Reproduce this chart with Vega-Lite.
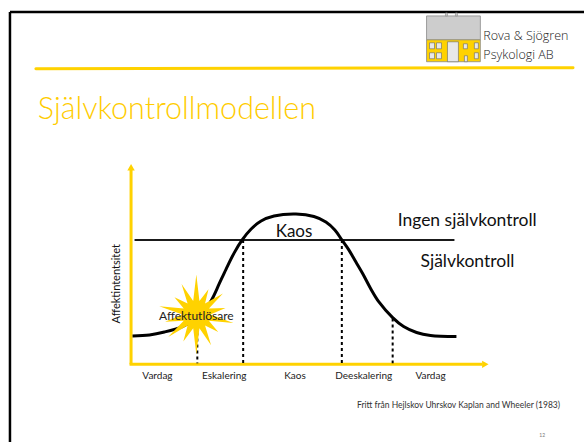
{
  "$schema": "https://vega.github.io/schema/vega-lite/v6.json",
  "width": 586,
  "height": 444,
  "padding": 0,
  "autosize": {"type": "fit", "contains": "padding"},
  "background": "white",
  "config": {"view": {"stroke": null}, "font": "Lato"},
  "datasets": {
    "frame": [
      {"x": 10, "y": 12, "x2": 586, "y2": 12},
      {"x": 10, "y": 12, "x2": 10, "y2": 444}
    ],
    "header": [{"x": 36, "y": 69, "x2": 575, "y2": 68}],
    "axes": [
      {"x": 131.5, "y": 170, "x2": 131.5, "y2": 366},
      {"x": 130, "y": 366, "x2": 484, "y2": 366}
    ],
    "arrows": [
      {"x": 131.5, "y": 168, "dir": "up"},
      {"x": 487, "y": 366, "dir": "right"}
    ],
    "threshold": [{"x": 135, "y": 241, "x2": 456, "y2": 241}],
    "phases": [
      {"x": 198, "y": 322, "x2": 198, "y2": 365},
      {"x": 244, "y": 241, "x2": 244, "y2": 365},
      {"x": 343, "y": 241, "x2": 343, "y2": 365},
      {"x": 394, "y": 320, "x2": 394, "y2": 365}
    ],
    "curve": [
      {"x": 133, "y": 337.5}, {"x": 150, "y": 336.5}, {"x": 165, "y": 333.5},
      {"x": 183, "y": 328}, {"x": 197, "y": 320}, {"x": 206, "y": 311},
      {"x": 213, "y": 300}, {"x": 220, "y": 285}, {"x": 227, "y": 270},
      {"x": 235, "y": 254}, {"x": 243, "y": 241}, {"x": 252, "y": 230},
      {"x": 262, "y": 222}, {"x": 275, "y": 217}, {"x": 297, "y": 215},
      {"x": 315, "y": 217.5}, {"x": 327, "y": 223},
      {"x": 336, "y": 231}, {"x": 343, "y": 241}, {"x": 350, "y": 251},
      {"x": 357, "y": 263}, {"x": 364, "y": 275}, {"x": 372, "y": 290},
      {"x": 380, "y": 303}, {"x": 394, "y": 319}, {"x": 405, "y": 328},
      {"x": 418, "y": 334}, {"x": 432, "y": 337}, {"x": 458, "y": 338}
    ],
    "star": [{"x": 197, "y": 316}],
    "roof": [{"x": 428, "y": 16, "x2": 482, "y2": 40}],
    "chimneys": [
      {"x": 447, "y": 13, "x2": 449, "y2": 16},
      {"x": 457, "y": 13, "x2": 459, "y2": 16}
    ],
    "body": [{"x": 428, "y": 40, "x2": 482, "y2": 62}],
    "windows": [
      {"x": 431, "y": 43, "x2": 436, "y2": 49},
      {"x": 438, "y": 43, "x2": 443, "y2": 49},
      {"x": 431, "y": 53, "x2": 436, "y2": 59},
      {"x": 438, "y": 53, "x2": 443, "y2": 59},
      {"x": 449, "y": 42, "x2": 460, "y2": 62},
      {"x": 465, "y": 44, "x2": 469, "y2": 49},
      {"x": 476, "y": 43, "x2": 480, "y2": 49},
      {"x": 476, "y": 53, "x2": 480, "y2": 59},
      {"x": 466, "y": 56, "x2": 469, "y2": 62}
    ],
    "title": [{"x": 38, "y": 120, "label": "Självkontrollmodellen"}],
    "logo": [
      {"x": 485, "y": 40, "label": "Rova & Sjögren"},
      {"x": 485, "y": 59, "label": "Psykologi AB"}
    ],
    "phaseLabels": [
      {"x": 158, "y": 381, "label": "Vardag"},
      {"x": 225, "y": 381, "label": "Eskalering"},
      {"x": 296, "y": 381, "label": "Kaos"},
      {"x": 365, "y": 381, "label": "Deeskalering"},
      {"x": 432, "y": 381, "label": "Vardag"}
    ],
    "kaos": [{"x": 295, "y": 238, "label": "Kaos"}],
    "zones": [
      {"x": 399, "y": 227, "label": "Ingen självkontroll"},
      {"x": 422, "y": 268, "label": "Självkontroll"}
    ],
    "trigger": [{"x": 197, "y": 321, "label": "Affektutlösare"}],
    "ylabel": [{"x": 120, "y": 285, "label": "Affektintentsitet"}],
    "footer": [{"x": 562, "y": 410, "label": "Fritt från Hejlskov Uhrskov Kaplan and Wheeler (1983)"}],
    "page": [{"x": 544, "y": 439, "label": "12"}]
  },
  "layer": [
    {
      "data": {"name": "frame"},
      "mark": {"type": "rule", "color": "#000000", "strokeWidth": 2.5},
      "encoding": {
        "x": {"field": "x", "type": "quantitative", "scale": {"domain": [0, 586], "nice": false, "zero": false}, "axis": null},
        "y": {"field": "y", "type": "quantitative", "scale": {"domain": [0, 444], "nice": false, "zero": false, "reverse": true}, "axis": null},
        "x2": {"field": "x2"},
        "y2": {"field": "y2"}
      }
    },
    {
      "data": {"name": "header"},
      "mark": {"type": "rule", "color": "#FFD200", "strokeWidth": 3, "strokeCap": "round"},
      "encoding": {
        "x": {"field": "x", "type": "quantitative", "scale": {"domain": [0, 586], "nice": false, "zero": false}, "axis": null},
        "y": {"field": "y", "type": "quantitative", "scale": {"domain": [0, 444], "nice": false, "zero": false, "reverse": true}, "axis": null},
        "x2": {"field": "x2"},
        "y2": {"field": "y2"}
      }
    },
    {
      "data": {"name": "roof"},
      "mark": {"type": "rect", "fill": "#CDCDCD", "stroke": "#8A8A8A", "strokeWidth": 0.8},
      "encoding": {
        "x": {"field": "x", "type": "quantitative", "scale": {"domain": [0, 586], "nice": false, "zero": false}, "axis": null},
        "y": {"field": "y", "type": "quantitative", "scale": {"domain": [0, 444], "nice": false, "zero": false, "reverse": true}, "axis": null},
        "x2": {"field": "x2"},
        "y2": {"field": "y2"}
      }
    },
    {
      "data": {"name": "chimneys"},
      "mark": {"type": "rect", "fill": "#CDCDCD", "stroke": "#8A8A8A", "strokeWidth": 0.6},
      "encoding": {
        "x": {"field": "x", "type": "quantitative", "scale": {"domain": [0, 586], "nice": false, "zero": false}, "axis": null},
        "y": {"field": "y", "type": "quantitative", "scale": {"domain": [0, 444], "nice": false, "zero": false, "reverse": true}, "axis": null},
        "x2": {"field": "x2"},
        "y2": {"field": "y2"}
      }
    },
    {
      "data": {"name": "body"},
      "mark": {"type": "rect", "fill": "#FFD200", "stroke": "#8A8A8A", "strokeWidth": 0.8},
      "encoding": {
        "x": {"field": "x", "type": "quantitative", "scale": {"domain": [0, 586], "nice": false, "zero": false}, "axis": null},
        "y": {"field": "y", "type": "quantitative", "scale": {"domain": [0, 444], "nice": false, "zero": false, "reverse": true}, "axis": null},
        "x2": {"field": "x2"},
        "y2": {"field": "y2"}
      }
    },
    {
      "data": {"name": "windows"},
      "mark": {"type": "rect", "fill": "#E8E8E8", "stroke": "#666666", "strokeWidth": 0.6},
      "encoding": {
        "x": {"field": "x", "type": "quantitative", "scale": {"domain": [0, 586], "nice": false, "zero": false}, "axis": null},
        "y": {"field": "y", "type": "quantitative", "scale": {"domain": [0, 444], "nice": false, "zero": false, "reverse": true}, "axis": null},
        "x2": {"field": "x2"},
        "y2": {"field": "y2"}
      }
    },
    {
      "data": {"name": "axes"},
      "mark": {"type": "rule", "color": "#FFD200", "strokeWidth": 3},
      "encoding": {
        "x": {"field": "x", "type": "quantitative", "scale": {"domain": [0, 586], "nice": false, "zero": false}, "axis": null},
        "y": {"field": "y", "type": "quantitative", "scale": {"domain": [0, 444], "nice": false, "zero": false, "reverse": true}, "axis": null},
        "x2": {"field": "x2"},
        "y2": {"field": "y2"}
      }
    },
    {
      "data": {"name": "arrows"},
      "transform": [{"filter": "datum.dir === 'up'"}],
      "mark": {"type": "point", "shape": "triangle-up", "filled": true, "color": "#FFD200", "size": 55, "opacity": 1},
      "encoding": {
        "x": {"field": "x", "type": "quantitative", "scale": {"domain": [0, 586], "nice": false, "zero": false}, "axis": null},
        "y": {"field": "y", "type": "quantitative", "scale": {"domain": [0, 444], "nice": false, "zero": false, "reverse": true}, "axis": null}
      }
    },
    {
      "data": {"name": "arrows"},
      "transform": [{"filter": "datum.dir === 'right'"}],
      "mark": {"type": "point", "shape": "triangle-right", "filled": true, "color": "#FFD200", "size": 55, "opacity": 1},
      "encoding": {
        "x": {"field": "x", "type": "quantitative", "scale": {"domain": [0, 586], "nice": false, "zero": false}, "axis": null},
        "y": {"field": "y", "type": "quantitative", "scale": {"domain": [0, 444], "nice": false, "zero": false, "reverse": true}, "axis": null}
      }
    },
    {
      "data": {"name": "threshold"},
      "mark": {"type": "rule", "color": "#1a1a1a", "strokeWidth": 2},
      "encoding": {
        "x": {"field": "x", "type": "quantitative", "scale": {"domain": [0, 586], "nice": false, "zero": false}, "axis": null},
        "y": {"field": "y", "type": "quantitative", "scale": {"domain": [0, 444], "nice": false, "zero": false, "reverse": true}, "axis": null},
        "x2": {"field": "x2"},
        "y2": {"field": "y2"}
      }
    },
    {
      "data": {"name": "phases"},
      "mark": {"type": "rule", "color": "#000000", "strokeWidth": 2, "strokeDash": [3, 3]},
      "encoding": {
        "x": {"field": "x", "type": "quantitative", "scale": {"domain": [0, 586], "nice": false, "zero": false}, "axis": null},
        "y": {"field": "y", "type": "quantitative", "scale": {"domain": [0, 444], "nice": false, "zero": false, "reverse": true}, "axis": null},
        "x2": {"field": "x2"},
        "y2": {"field": "y2"}
      }
    },
    {
      "data": {"name": "curve"},
      "mark": {"type": "line", "color": "#000000", "strokeWidth": 3, "interpolate": "catmull-rom"},
      "encoding": {
        "x": {"field": "x", "type": "quantitative", "scale": {"domain": [0, 586], "nice": false, "zero": false}, "axis": null},
        "y": {"field": "y", "type": "quantitative", "scale": {"domain": [0, 444], "nice": false, "zero": false, "reverse": true}, "axis": null}
      }
    },
    {
      "data": {"name": "star"},
      "mark": {"type": "point", "filled": true, "color": "#FFD200", "opacity": 1, "size": 6400,
        "shape": "M0,-1 L0.078,-0.341 L0.304,-0.631 L0.218,-0.274 L0.665,-0.53 L0.315,-0.152 L0.731,-0.167 L0.35,0 L0.926,0.211 L0.315,0.152 L0.547,0.436 L0.218,0.274 L0.369,0.766 L0.078,0.341 L0,1 L-0.078,0.341 L-0.325,0.676 L-0.218,0.274 L-0.704,0.561 L-0.315,0.152 L-0.78,0.178 L-0.35,0 L-0.926,-0.211 L-0.315,-0.152 L-0.547,-0.436 L-0.218,-0.274 L-0.369,-0.766 L-0.078,-0.341 Z"},
      "encoding": {
        "x": {"field": "x", "type": "quantitative", "scale": {"domain": [0, 586], "nice": false, "zero": false}, "axis": null},
        "y": {"field": "y", "type": "quantitative", "scale": {"domain": [0, 444], "nice": false, "zero": false, "reverse": true}, "axis": null}
      }
    },
    {
      "data": {"name": "title"},
      "mark": {"type": "text", "align": "left", "baseline": "alphabetic", "fontSize": 30.5, "fontWeight": 300, "color": "#FFCC00", "font": "Lato"},
      "encoding": {
        "x": {"field": "x", "type": "quantitative", "scale": {"domain": [0, 586], "nice": false, "zero": false}, "axis": null},
        "y": {"field": "y", "type": "quantitative", "scale": {"domain": [0, 444], "nice": false, "zero": false, "reverse": true}, "axis": null},
        "text": {"field": "label"}
      }
    },
    {
      "data": {"name": "logo"},
      "mark": {"type": "text", "align": "left", "baseline": "alphabetic", "fontSize": 12.5, "color": "#222222", "font": "Open Sans", "fontWeight": 300},
      "encoding": {
        "x": {"field": "x", "type": "quantitative", "scale": {"domain": [0, 586], "nice": false, "zero": false}, "axis": null},
        "y": {"field": "y", "type": "quantitative", "scale": {"domain": [0, 444], "nice": false, "zero": false, "reverse": true}, "axis": null},
        "text": {"field": "label"}
      }
    },
    {
      "data": {"name": "phaseLabels"},
      "mark": {"type": "text", "align": "center", "baseline": "alphabetic", "fontSize": 10, "color": "#222222", "font": "Lato"},
      "encoding": {
        "x": {"field": "x", "type": "quantitative", "scale": {"domain": [0, 586], "nice": false, "zero": false}, "axis": null},
        "y": {"field": "y", "type": "quantitative", "scale": {"domain": [0, 444], "nice": false, "zero": false, "reverse": true}, "axis": null},
        "text": {"field": "label"}
      }
    },
    {
      "data": {"name": "kaos"},
      "mark": {"type": "text", "align": "center", "baseline": "alphabetic", "fontSize": 17, "color": "#111111", "font": "Lato"},
      "encoding": {
        "x": {"field": "x", "type": "quantitative", "scale": {"domain": [0, 586], "nice": false, "zero": false}, "axis": null},
        "y": {"field": "y", "type": "quantitative", "scale": {"domain": [0, 444], "nice": false, "zero": false, "reverse": true}, "axis": null},
        "text": {"field": "label"}
      }
    },
    {
      "data": {"name": "zones"},
      "mark": {"type": "text", "align": "left", "baseline": "alphabetic", "fontSize": 17.5, "color": "#111111", "font": "Lato"},
      "encoding": {
        "x": {"field": "x", "type": "quantitative", "scale": {"domain": [0, 586], "nice": false, "zero": false}, "axis": null},
        "y": {"field": "y", "type": "quantitative", "scale": {"domain": [0, 444], "nice": false, "zero": false, "reverse": true}, "axis": null},
        "text": {"field": "label"}
      }
    },
    {
      "data": {"name": "trigger"},
      "mark": {"type": "text", "align": "center", "baseline": "alphabetic", "fontSize": 12, "color": "#222222", "font": "Lato"},
      "encoding": {
        "x": {"field": "x", "type": "quantitative", "scale": {"domain": [0, 586], "nice": false, "zero": false}, "axis": null},
        "y": {"field": "y", "type": "quantitative", "scale": {"domain": [0, 444], "nice": false, "zero": false, "reverse": true}, "axis": null},
        "text": {"field": "label"}
      }
    },
    {
      "data": {"name": "ylabel"},
      "mark": {"type": "text", "align": "center", "baseline": "alphabetic", "angle": 270, "fontSize": 11, "color": "#111111", "font": "Lato"},
      "encoding": {
        "x": {"field": "x", "type": "quantitative", "scale": {"domain": [0, 586], "nice": false, "zero": false}, "axis": null},
        "y": {"field": "y", "type": "quantitative", "scale": {"domain": [0, 444], "nice": false, "zero": false, "reverse": true}, "axis": null},
        "text": {"field": "label"}
      }
    },
    {
      "data": {"name": "footer"},
      "mark": {"type": "text", "align": "right", "baseline": "alphabetic", "fontSize": 8.5, "color": "#333333", "font": "Lato"},
      "encoding": {
        "x": {"field": "x", "type": "quantitative", "scale": {"domain": [0, 586], "nice": false, "zero": false}, "axis": null},
        "y": {"field": "y", "type": "quantitative", "scale": {"domain": [0, 444], "nice": false, "zero": false, "reverse": true}, "axis": null},
        "text": {"field": "label"}
      }
    },
    {
      "data": {"name": "page"},
      "mark": {"type": "text", "align": "center", "baseline": "alphabetic", "fontSize": 5, "color": "#777777", "font": "Lato"},
      "encoding": {
        "x": {"field": "x", "type": "quantitative", "scale": {"domain": [0, 586], "nice": false, "zero": false}, "axis": null},
        "y": {"field": "y", "type": "quantitative", "scale": {"domain": [0, 444], "nice": false, "zero": false, "reverse": true}, "axis": null},
        "text": {"field": "label"}
      }
    }
  ]
}
